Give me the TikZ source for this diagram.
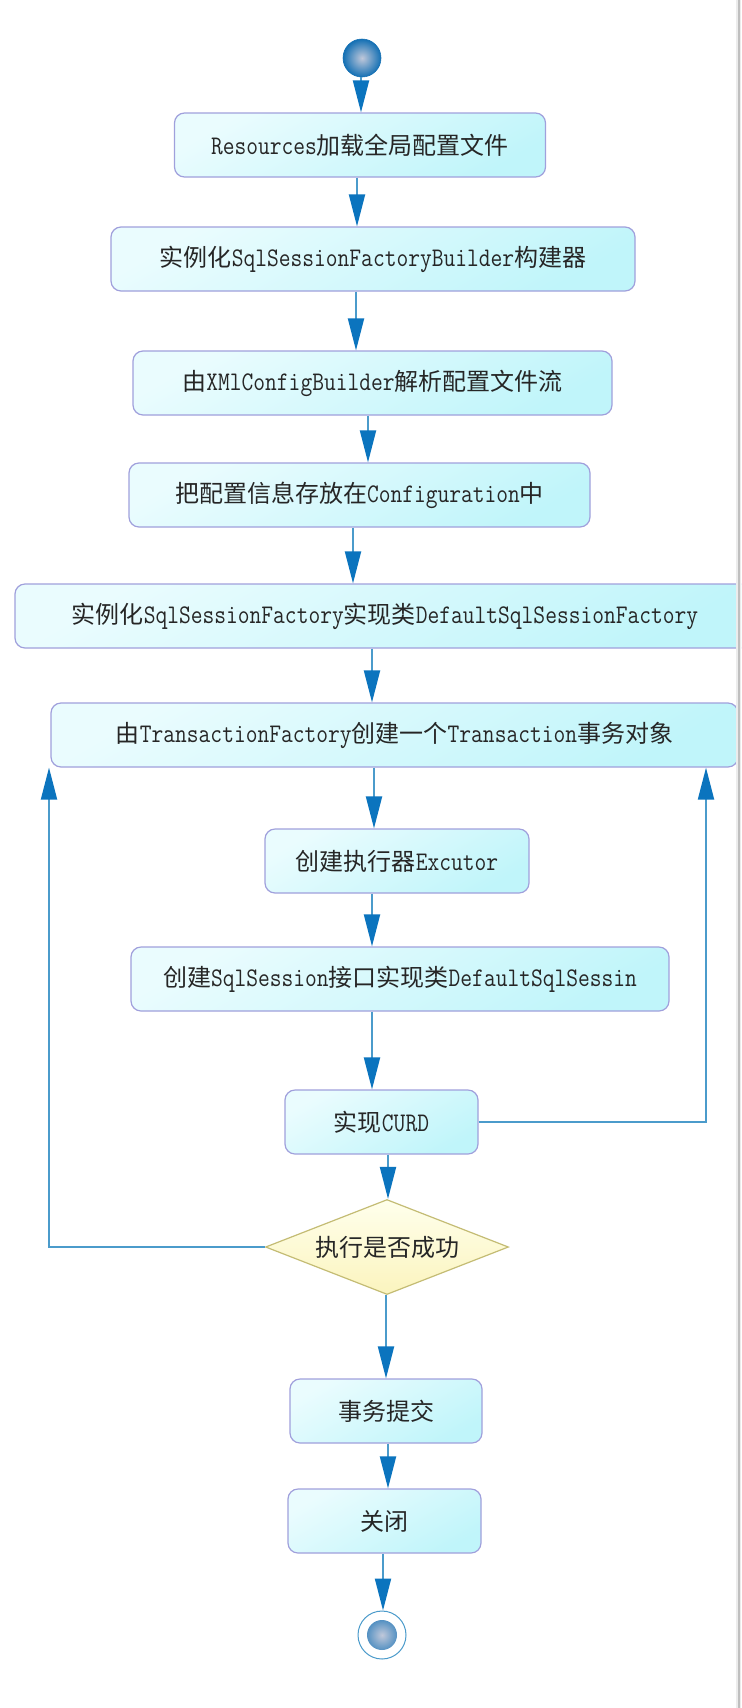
\documentclass[tikz,border=0pt]{standalone}
\usepackage{fontspec}
\setmainfont{Noto Sans CJK SC}
\newfontfamily\latfont[Scale=1.12,FakeStretch=0.85]{Latin Modern Mono}
\newcommand\lat[1]{{\latfont #1}}
\usetikzlibrary{arrows.meta,shapes.geometric}

\definecolor{boxline}{HTML}{A0A0DC}
\definecolor{boxtop}{HTML}{EAFCFE}
\definecolor{boxbot}{HTML}{C0F5FA}
\definecolor{decline}{HTML}{C4BC74}
\definecolor{dectop}{HTML}{FFFFEC}
\definecolor{decbot}{HTML}{FBF4BE}
\definecolor{flowline}{HTML}{4B9BCB}
\definecolor{tipblue}{HTML}{0B74BE}
\definecolor{dotin}{HTML}{C0C8DA}
\definecolor{dotout}{HTML}{1470B4}
\definecolor{txtgray}{HTML}{262626}

\begin{document}
\begin{tikzpicture}[x=0.5pt,y=-0.5pt]

    \tikzset{stepbox/.style={draw=boxline,line width=0.6pt,rounded corners=5pt,
                top color=boxtop,bottom color=boxbot,shading angle=30,
                minimum height=32pt,inner sep=0pt,text=txtgray,
                font=\fontsize{12pt}{14pt}\selectfont},
             decision/.style={diamond,draw=decline,line width=0.6pt,
                top color=dectop,bottom color=decbot,aspect=2.56,
                minimum width=121.5pt,minimum height=47.5pt,inner sep=0pt,
                text=txtgray,font=\fontsize{12pt}{14pt}\selectfont},
             startdot/.style={circle,minimum size=19pt,inner sep=0pt,
                draw=dotout,line width=0.3pt,inner color=dotin,outer color=dotout},
             enddot/.style={circle,minimum size=24pt,inner sep=0pt,
                draw=flowline,line width=0.5pt,fill=white,
                path picture={\shade[inner color=dotin,outer color=dotout]
                    (path picture bounding box.center) circle (7.5pt);}},
             flow/.style={draw=flowline,line width=1pt,
                -{Triangle[length=16pt,width=8pt,color=tipblue]}}}

    \useasboundingbox (0,0) rectangle (741,1708);
    \clip (0,0) rectangle (741,1708);
    \fill[white] (0,0) rectangle (741,1708);

    \node[startdot] (b0) at (362,58) {};
    \node[stepbox,minimum width=185.5pt] (b1) at (360,145) {\lat{Resources}加载全局配置文件};
    \node[stepbox,minimum width=262pt] (b2) at (373,259) {实例化\lat{SqlSessionFactoryBuilder}构建器};
    \node[stepbox,minimum width=239.5pt] (b3) at (372.5,383) {由\lat{XMlConfigBuilder}解析配置文件流};
    \node[stepbox,minimum width=230.5pt] (b4) at (359.5,495) {把配置信息存放在\lat{Configuration}中};
    \node[stepbox,minimum width=370pt] (b5) at (385,616) {实例化\lat{SqlSessionFactory}实现类\lat{DefaultSqlSessionFactory}};
    \node[stepbox,minimum width=343.5pt] (b6) at (394.5,735) {由\lat{TransactionFactory}创建一个\lat{Transaction}事务对象};
    \node[stepbox,minimum width=132pt] (b7) at (397,861) {创建执行器\lat{Excutor}};
    \node[stepbox,minimum width=269pt] (b8) at (400,979) {创建\lat{SqlSession}接口实现类\lat{DefaultSqlSessin}};
    \node[stepbox,minimum width=96.5pt] (b9) at (381.5,1122) {实现\lat{CURD}};
    \node[decision] (dec) at (387,1247) {执行是否成功};
    \node[stepbox,minimum width=96pt] (b10) at (386,1411) {事务提交};
    \node[stepbox,minimum width=96.5pt] (b11) at (384.5,1521) {关闭};
    \node[enddot] (b12) at (382,1635) {};

    \begin{scope}[every path/.style={flow}]
        \draw (b0.south -| 361,0) -- (b1.north -| 361,0);
        \draw (b1.south -| 357,0) -- (b2.north -| 357,0);
        \draw (b2.south -| 356,0) -- (b3.north -| 356,0);
        \draw (b3.south -| 368,0) -- (b4.north -| 368,0);
        \draw (b4.south -| 353,0) -- (b5.north -| 353,0);
        \draw (b5.south -| 372,0) -- (b6.north -| 372,0);
        \draw (b6.south -| 374,0) -- (b7.north -| 374,0);
        \draw (b7.south -| 372,0) -- (b8.north -| 372,0);
        \draw (b8.south -| 372,0) -- (b9.north -| 372,0);
        \draw (b9.south -| 388,0) -- (dec.north -| 388,0);
        \draw (dec.south -| 386,0) -- (b10.north -| 386,0);
        \draw (b10.south -| 388,0) -- (b11.north -| 388,0);
        \draw (b11.south -| 383,0) -- (b12.north -| 383,0);
        % loops back to the transaction box
        \draw (b9.east) -| (b6.south -| 706,0);
        \draw (dec.west) -| (b6.south -| 49,0);
    \end{scope}

    % window edge
    \fill[gray!15] (736,0) rectangle (741,1708);
    \draw[gray!50,line width=1pt] (739,0) -- (739,1708);
\end{tikzpicture}
\end{document}
